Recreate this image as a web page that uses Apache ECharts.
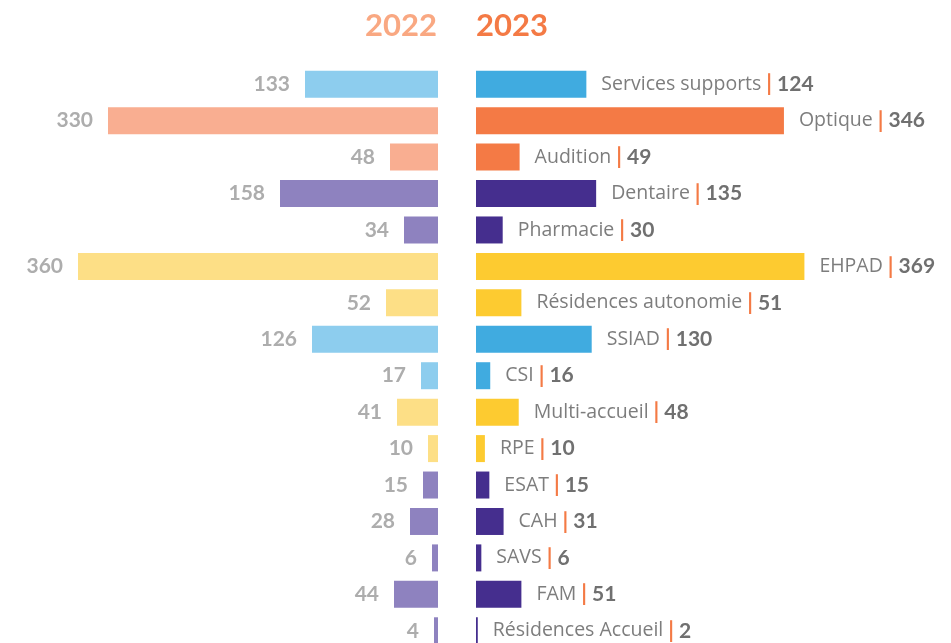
<!DOCTYPE html>
<html>
<head>
<meta charset="utf-8">
<script src="https://cdn.jsdelivr.net/npm/echarts@6/dist/echarts.min.js"></script>
<style>
  html, body { margin: 0; padding: 0; background: #fff; }
  #main { width: 951px; height: 643px; }
</style>
</head>
<body>
<div id="main"></div>
<script>
var categories = ['Services supports', 'Optique', 'Audition', 'Dentaire', 'Pharmacie', 'EHPAD',
  'Résidences autonomie', 'SSIAD', 'CSI', 'Multi-accueil', 'RPE', 'ESAT', 'CAH', 'SAVS', 'FAM',
  'Résidences Accueil'];
var groups = ['blue', 'orange', 'orange', 'purple', 'purple', 'yellow', 'yellow', 'blue', 'blue',
  'yellow', 'yellow', 'purple', 'purple', 'purple', 'purple', 'purple'];
var values2022 = [133, 330, 48, 158, 34, 360, 52, 126, 17, 41, 10, 15, 28, 6, 44, 4];
var values2023 = [124, 346, 49, 135, 30, 369, 51, 130, 16, 48, 10, 15, 31, 6, 51, 2];

// couleurs : [2022 clair, 2023 foncé]
var palette = {
  blue: ['#8dcdee', '#40abe0'],
  orange: ['#f9ae91', '#f47a45'],
  purple: ['#8e82bf', '#452e8e'],
  yellow: ['#fddf86', '#fdcb30']
};

var font = 'Lato';
var nameFont = 'Open Sans';
var chart = echarts.init(document.getElementById('main'));

chart.setOption({
  animation: false,
  title: [
    { text: '2022', right: 514, top: 10, padding: 0,
      textStyle: { fontFamily: font, fontSize: 31, fontWeight: 'bold', color: '#f9a882' } },
    { text: '2023', left: 476, top: 10, padding: 0,
      textStyle: { fontFamily: font, fontSize: 31, fontWeight: 'bold', color: '#f47a45' } }
  ],
  grid: [
    { left: 38, width: 400, top: 66, height: 583, outerBoundsMode: 'none' },
    { left: 476, width: 356, top: 66, height: 583, outerBoundsMode: 'none' }
  ],
  xAxis: [
    { gridIndex: 0, type: 'value', min: 0, max: 400, inverse: true, show: false },
    { gridIndex: 1, type: 'value', min: 0, max: 400, show: false }
  ],
  yAxis: [
    { gridIndex: 0, type: 'category', data: categories, inverse: true, show: false },
    { gridIndex: 1, type: 'category', data: categories, inverse: true, show: false }
  ],
  series: [
    {
      name: '2022', type: 'bar', xAxisIndex: 0, yAxisIndex: 0, barWidth: 27,
      data: values2022.map(function (v, i) {
        return { value: v, itemStyle: { color: palette[groups[i]][0] } };
      }),
      label: {
        show: true, position: 'left', distance: 15,
        fontFamily: font, fontSize: 21, fontWeight: 'bold', color: '#adadad'
      }
    },
    {
      name: '2023', type: 'bar', xAxisIndex: 1, yAxisIndex: 1, barWidth: 27,
      data: values2023.map(function (v, i) {
        return { value: v, itemStyle: { color: palette[groups[i]][1] } };
      }),
      label: {
        show: true, position: 'right', distance: 15,
        formatter: function (p) { return '{n|' + p.name + '}{s||}{v|' + p.value + '}'; },
        rich: {
          n: { fontFamily: nameFont, fontSize: 19.5, color: '#7d7d7d' },
          s: { fontFamily: font, fontSize: 22, fontWeight: 'bold', color: '#f47a45', padding: [0, 5, 0, 5] },
          v: { fontFamily: font, fontSize: 21, fontWeight: 'bold', color: '#707070' }
        }
      }
    }
  ]
});
</script>
</body>
</html>
